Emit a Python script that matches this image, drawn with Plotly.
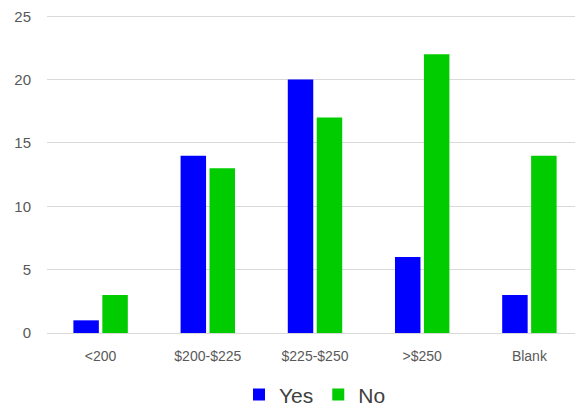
import plotly.graph_objects as go

categories = ["<200", "$200-$225", "$225-$250", ">$250", "Blank"]
yes_values = [1, 14, 20, 6, 3]
no_values = [3, 13, 17, 22, 14]
y_ticks = [0, 5, 10, 15, 20, 25]

fig = go.Figure()
fig.add_trace(go.Bar(name="Yes", x=categories, y=yes_values, marker=dict(color="#0000FF", line=dict(width=0))))
fig.add_trace(go.Bar(name="No", x=categories, y=no_values, marker=dict(color="#00CC00", line=dict(width=0))))

fig.update_layout(
    width=575, height=400,
    margin=dict(l=39, r=0, t=7, b=75, autoexpand=False),
    paper_bgcolor="white", plot_bgcolor="white",
    barmode="group", bargap=0.46, bargroupgap=0.12,
    font=dict(family="Liberation Sans, Arial, sans-serif", color="#595959", size=14),
    showlegend=True,
    legend=dict(orientation="h", x=0.5, xanchor="center", yref="container", y=0.033, yanchor="middle",
                font=dict(size=21, color="#404040"), itemwidth=30, traceorder="normal"),
)
fig.update_xaxes(showgrid=False, showline=True, linecolor="#D9D9D9", linewidth=1,
                 ticks="outside", ticklen=10, tickcolor="white",
                 tickfont=dict(size=14, color="#595959"))
fig.update_yaxes(range=[0, 25.1], tickvals=y_ticks, showgrid=True, gridcolor="#D9D9D9",
                 gridwidth=1, zeroline=False, showline=False, ticks="outside", ticklen=12,
                 tickcolor="white", tickfont=dict(size=15, color="#595959"),
                 ticklabeloverflow="allow")

fig.write_html("out.html")
